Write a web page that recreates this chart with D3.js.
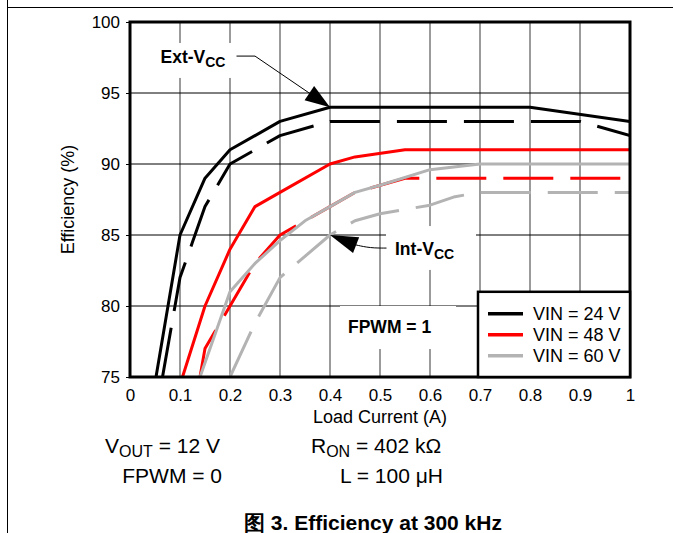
<!DOCTYPE html>
<html><head><meta charset="utf-8">
<script src="https://cdn.jsdelivr.net/npm/d3@7"></script>
<style>
body{margin:0;background:#fff;}
svg{display:block;font-family:"Liberation Sans",Arial,sans-serif;}
</style></head>
<body><svg id="c" width="673" height="533"></svg>
<script>
// ---- data ----
const xTicks = [0,0.1,0.2,0.3,0.4,0.5,0.6,0.7,0.8,0.9,1];
const xTickLabels = ["0","0.1","0.2","0.3","0.4","0.5","0.6","0.7","0.8","0.9","1"];
const yTicks = [75,80,85,90,95,100];
const yTickLabels = ["75","80","85","90","95","100"];
const seriesNames = ["VIN = 24 V","VIN = 48 V","VIN = 60 V"];
const seriesColors = ["#000000","#ff0000","#b3b3b3"];
// Ext-VCC (solid) and Int-VCC (dashed) curves
const vin24Ext = [[0.052,75],[0.1,85],[0.15,89],[0.2,91],[0.3,93],[0.4,94],[0.8,94],[1,93]];
const vin24Int = [[0.065,75],[0.09,80],[0.1,82],[0.125,84.5],[0.15,87],[0.2,90],[0.3,92],[0.4,93],[0.9,93],[1,92]];
const vin48Ext = [[0.105,75],[0.15,80],[0.2,84],[0.25,87],[0.3,88],[0.4,90],[0.45,90.5],[0.55,91],[1,91]];
const vin48Int = [[0.14,75],[0.15,77],[0.2,80],[0.25,83],[0.3,85],[0.35,86],[0.4,87],[0.45,88],[0.55,89],[1,89]];
const vin60Ext = [[0.14,75],[0.2,81],[0.25,83],[0.3,84.6],[0.35,86],[0.4,87],[0.45,88],[0.5,88.5],[0.6,89.6],[0.7,90],[1,90]];
const vin60Int = [[0.2,75],[0.25,78.8],[0.3,82],[0.4,85],[0.45,86],[0.5,86.5],[0.6,87.1],[0.65,87.7],[0.7,88],[1,88]];

const svg = d3.select("#c");
const L=130,R=630,T=22,B=377;
const x = d3.scaleLinear().domain([0,1]).range([L,R]);
const y = d3.scaleLinear().domain([75,100]).range([B,T]);

// outer figure border lines
svg.append("line").attr("x1",7.5).attr("x2",7.5).attr("y1",0).attr("y2",533).attr("stroke","#000").attr("stroke-width",1);
svg.append("line").attr("x1",7).attr("x2",673).attr("y1",7.5).attr("y2",7.5).attr("stroke","#000").attr("stroke-width",1);

// grid
const g = svg.append("g");
g.selectAll(".vg").data(xTicks.slice(1,-1)).join("line")
 .attr("x1",d=>x(d)).attr("x2",d=>x(d)).attr("y1",T).attr("y2",B)
 .attr("stroke","#7a7a7a").attr("stroke-width",1.5);
const yAxis = d3.axisLeft(y).tickValues(yTicks).tickFormat((d,i)=>yTickLabels[i]).tickSize(4).tickPadding(6);
const ya = svg.append("g").attr("transform",`translate(${L},0)`).call(yAxis);
ya.select(".domain").remove();
ya.selectAll("text").attr("font-size",17).attr("font-family","Liberation Sans, Arial, sans-serif").attr("fill","#000");
ya.selectAll("line").attr("stroke","#000");
g.selectAll(".hg").data(yTicks.slice(1,-1)).join("line")
 .attr("x1",L).attr("x2",R).attr("y1",d=>y(d)).attr("y2",d=>y(d))
 .attr("stroke","#000").attr("stroke-width",1);

// white label boxes (hide grid)
const boxes = [[0.04,98.52,0.264,96.06],[0.512,85.63,0.692,82.54],[0.42,80,0.652,76.97]];
svg.selectAll(".wb").data(boxes).join("rect")
 .attr("x",d=>x(d[0])).attr("y",d=>y(d[1])).attr("width",d=>x(d[2])-x(d[0])).attr("height",d=>y(d[3])-y(d[1]))
 .attr("fill","#fff");

// x axis labels
const xAxis = d3.axisBottom(x).tickValues(xTicks).tickFormat((d,i)=>xTickLabels[i]).tickSize(0).tickPadding(12);
const xa = svg.append("g").attr("transform",`translate(0,${B})`).call(xAxis);
xa.select(".domain").remove();
xa.selectAll("text").attr("font-size",17).attr("font-family","Liberation Sans, Arial, sans-serif").attr("fill","#000");

// curves
const line = d3.line().x(d=>x(d[0])).y(d=>y(d[1]));
const curves = [
 {d:vin24Ext,c:0,dash:null},{d:vin24Int,c:0,dash:"50,17"},
 {d:vin48Int,c:1,dash:"50,17"},{d:vin48Ext,c:1,dash:null},
 {d:vin60Int,c:2,dash:"50,17"},{d:vin60Ext,c:2,dash:null}
];
svg.append("clipPath").attr("id","pc").append("rect").attr("x",L).attr("y",T).attr("width",R-L).attr("height",B-T);
svg.append("g").attr("clip-path","url(#pc)").selectAll("path").data(curves).join("path")
 .attr("d",d=>line(d.d)).attr("fill","none").attr("stroke",d=>seriesColors[d.c])
 .attr("stroke-width",3).attr("stroke-dasharray",d=>d.dash).attr("stroke-linejoin","round");

// frame
svg.append("rect").attr("x",L).attr("y",T).attr("width",R-L).attr("height",B-T)
 .attr("fill","none").attr("stroke","#000").attr("stroke-width",3);

// annotations
function arrow(tip, from, len, hw){
  const tx=x(tip[0]),ty=y(tip[1]),fx=x(from[0]),fy=y(from[1]);
  const dx=tx-fx,dy=ty-fy,n=Math.hypot(dx,dy),ux=dx/n,uy=dy/n;
  const bx=tx-ux*len,by=ty-uy*len;
  return `M${tx},${ty}L${bx-uy*hw},${by+ux*hw}L${bx+uy*hw},${by-ux*hw}Z`;
}
const extPts=[[0.213,97.6],[0.25,97.6],[0.4,94]];
svg.append("path").attr("d",line(extPts)).attr("fill","none").attr("stroke","#000").attr("stroke-width",1);
svg.append("path").attr("d",arrow([0.4,94],[0.25,97.6],25,8.5)).attr("fill","#000");
const t1=svg.append("text").attr("x",x(0.061)).attr("y",y(97.1)).attr("font-size",17.5).attr("font-weight","bold");
t1.append("tspan").text("Ext-V");
t1.append("tspan").attr("font-size",14).attr("dy",4).text("CC");
const intPts=[[0.452,84.3],[0.48,84.08],[0.513,84.08]];
svg.append("path").attr("d",d3.line().x(d=>x(d[0])).y(d=>y(d[1])).curve(d3.curveBasis)(intPts)).attr("fill","none").attr("stroke","#000").attr("stroke-width",1);
svg.append("path").attr("d",arrow([0.4,85],[0.455,84.25],28,8.5)).attr("fill","#000");
const t2=svg.append("text").attr("x",x(0.53)).attr("y",y(83.6)).attr("font-size",17.5).attr("font-weight","bold");
t2.append("tspan").text("Int-V");
t2.append("tspan").attr("font-size",14).attr("dy",4).text("CC");
svg.append("text").attr("x",x(0.436)).attr("y",y(78.1)).attr("font-size",17.5).attr("font-weight","bold").text("FPWM = 1");

// legend
const lg = svg.append("g");
lg.append("rect").attr("x",x(0.696)).attr("y",y(81)).attr("width",R-x(0.696)).attr("height",B-y(81))
 .attr("fill","#fff").attr("stroke","#000").attr("stroke-width",2.5);
seriesNames.forEach((nm,i)=>{
  const yy = y(81)+22+i*21;
  lg.append("line").attr("x1",x(0.716)).attr("x2",x(0.786)).attr("y1",yy).attr("y2",yy).attr("stroke",seriesColors[i]).attr("stroke-width",3.5);
  lg.append("text").attr("x",x(0.806)).attr("y",yy+6.5).attr("font-size",18).text(nm);
});

// axis titles
svg.append("text").attr("x",x(0.5)).attr("y",423).attr("text-anchor","middle").attr("font-size",18).text("Load Current (A)");
svg.append("text").attr("transform",`translate(74,${(T+B)/2}) rotate(-90)`).attr("text-anchor","middle").attr("font-size",18).text("Efficiency (%)");

// conditions
const c1=svg.append("text").attr("x",105).attr("y",453).attr("font-size",21);
c1.append("tspan").text("V"); c1.append("tspan").attr("font-size",16).attr("dy",4).text("OUT"); c1.append("tspan").attr("dy",-4).text(" = 12 V");
svg.append("text").attr("x",222).attr("y",483).attr("font-size",21).attr("text-anchor","end").text("FPWM = 0");
const c2=svg.append("text").attr("x",311).attr("y",453).attr("font-size",21);
c2.append("tspan").text("R"); c2.append("tspan").attr("font-size",16).attr("dy",4).text("ON"); c2.append("tspan").attr("dy",-4).text(" = 402 kΩ");
svg.append("text").attr("x",443).attr("y",483).attr("font-size",21).attr("text-anchor","end").text("L = 100 μH");

// caption
svg.append("text").attr("x",373).attr("y",530).attr("text-anchor","middle").attr("font-size",21).attr("font-weight","bold")
 .text("图 3. Efficiency at 300 kHz");
</script></body></html>
